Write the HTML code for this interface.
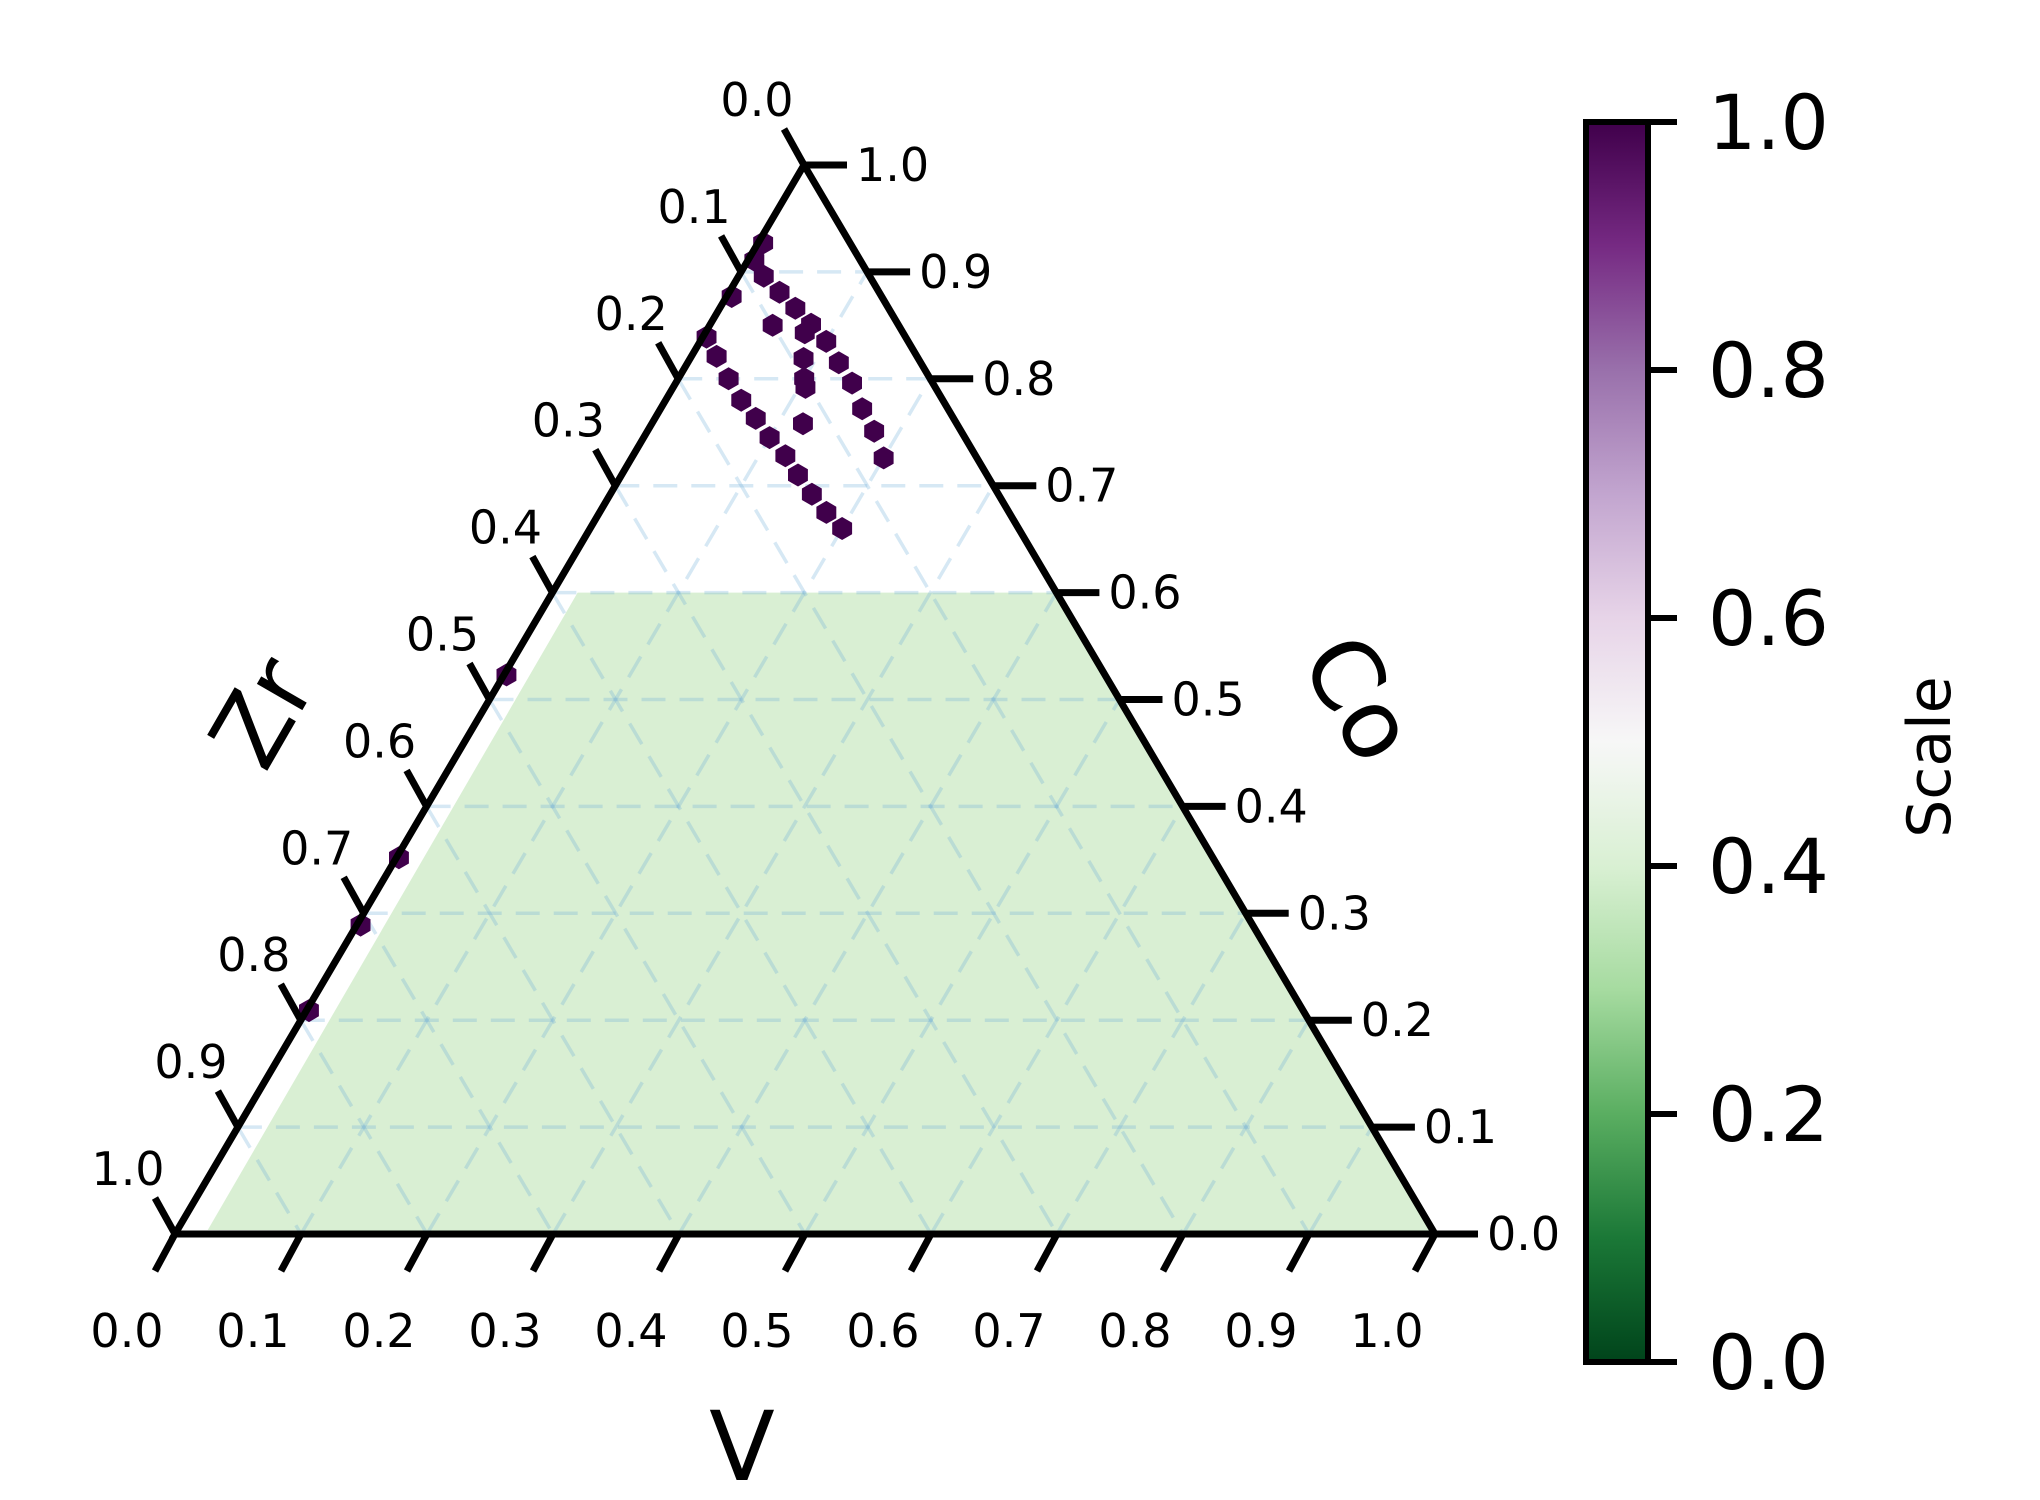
<!DOCTYPE html>
<html><head><meta charset="utf-8"><style>
html,body{margin:0;padding:0;background:#fff;}
svg{display:block;font-family:"DejaVu Sans","Liberation Sans",sans-serif;}
</style></head><body>
<svg id="chart" width="2040" height="1500" viewBox="0 0 2040 1500" xmlns="http://www.w3.org/2000/svg">
<defs>
<linearGradient id="prgn" x1="0" y1="1" x2="0" y2="0">
<stop offset="0" stop-color="#00441b"/><stop offset="0.1" stop-color="#1b7837"/><stop offset="0.2" stop-color="#5aae61"/><stop offset="0.3" stop-color="#a6dba0"/><stop offset="0.4" stop-color="#d9f0d3"/><stop offset="0.5" stop-color="#f7f7f7"/><stop offset="0.6" stop-color="#e7d4e8"/><stop offset="0.7" stop-color="#c2a5cf"/><stop offset="0.8" stop-color="#9970ab"/><stop offset="0.9" stop-color="#762a83"/><stop offset="1" stop-color="#40004b"/>
</linearGradient>
</defs>
<g id="fill"></g><g id="grid"></g><g id="pts"></g><g id="axes"></g>
<rect x="1586" y="122" width="62" height="1240" fill="url(#prgn)" stroke="#000" stroke-width="6"/>
<g id="cbticks"></g>
<text x="0" y="0" font-size="60" text-anchor="middle" transform="translate(1950,757) rotate(-90)">Scale</text>
<text x="742" y="1480" font-size="96" text-anchor="middle">V</text>
<text x="0" y="0" font-size="96" text-anchor="middle" transform="translate(262,712) rotate(-60) translate(0,34)">Zr</text>
<text x="0" y="0" font-size="96" text-anchor="middle" transform="translate(1360,698) rotate(60) translate(0,34)">Co</text>
</svg>
<script>
const lineA_v=[0.004,0.005,0.004,0.003,0.02,0.04,0.06,0.08,0.10,0.121,0.14,0.16,0.18,0.20];
const lineA_co=[0.927,0.911,0.877,0.839,0.821,0.80,0.78,0.763,0.745,0.728,0.71,0.692,0.675,0.66];
const lineB_v=[0.02,0.04,0.06,0.08,0.10,0.12,0.14,0.16,0.18,0.20];
const lineB_co=[0.896,0.881,0.866,0.851,0.835,0.815,0.796,0.772,0.751,0.726];
const lineC_v=[0.05,0.079,0.09,0.10,0.105,0.12];
const lineC_co=[0.85,0.843,0.819,0.80,0.792,0.758];
const edge_v=[0.002,0.002,0.003,0.002];
const edge_co=[0.523,0.352,0.289,0.209];
const ticks=[0,0.1,0.2,0.3,0.4,0.5,0.6,0.7,0.8,0.9,1.0];
const cbTicks=[0,0.2,0.4,0.6,0.8,1.0];
const fillCoMax=0.6, fillVMin=0.026, fillVTop=0.02;

const A={x:804,y:165},L={x:175,y:1234},R={x:1435,y:1234};
function P(v,co){const zr=1-v-co;return {x:L.x*zr+R.x*v+A.x*co,y:L.y*zr+R.y*v+A.y*co};}
const NS="http://www.w3.org/2000/svg";
function mk(tag,attrs,parent){const e=document.createElementNS(NS,tag);for(const k in attrs)e.setAttribute(k,attrs[k]);parent.appendChild(e);return e;}
const gF=document.getElementById('fill'),gG=document.getElementById('grid'),gP=document.getElementById('pts'),gA=document.getElementById('axes'),gC=document.getElementById('cbticks');

// green region
const f1=P(fillVMin,0),f2=P(1,0),f3=P(1-fillCoMax,fillCoMax),f4=P(fillVTop,fillCoMax);
const poly=mk('polygon',{points:`${f1.x},${f1.y-4} ${f2.x},${f2.y} ${f3.x},${f3.y} ${f4.x},${f4.y}`,fill:'#d9efd3'},gF);



// grid
for(let i=1;i<10;i++){const t=i/10;
 const segs=[[P(0,t),P(1-t,t)],[P(t,0),P(t,1-t)],[P(0,1-t),P(1-t,0)]];
 segs.forEach(s=>{const l=mk('line',{x1:s[0].x,y1:s[0].y,x2:s[1].x,y2:s[1].y,stroke:'#6baed6','stroke-opacity':0.28,'stroke-width':3.5,'stroke-dasharray':'24 14'},gG);
 
 });
}

// points
function hex(cx,cy,r){let s='';for(let k=0;k<6;k++){const a=Math.PI/180*(60*k-90);s+=(cx+r*Math.cos(a)).toFixed(1)+','+(cy+r*Math.sin(a)).toFixed(1)+' ';}return s;}
[[lineA_v,lineA_co],[lineB_v,lineB_co],[lineC_v,lineC_co],[edge_v,edge_co]].forEach(([vs,cs])=>{
 vs.forEach((v,i)=>{const p=P(v,cs[i]);const h=mk('polygon',{points:hex(p.x,p.y,11.5),fill:'#40004b'},gP);
 
 });
});

// axes
const tri=mk('polygon',{points:`${A.x},${A.y} ${L.x},${L.y} ${R.x},${R.y}`,fill:'none',stroke:'#000','stroke-width':7,'stroke-linejoin':'miter'},gA);


ticks.forEach(t=>{
 const lab=t.toFixed(1);
 let p=P(t,0);
 let l=mk('line',{x1:p.x,y1:p.y,x2:p.x-20,y2:p.y+37,stroke:'#000','stroke-width':7},gA);
 
 
 let tx=mk('text',{x:p.x-48,y:p.y+113,'font-size':46,'text-anchor':'middle'},gA);tx.textContent=lab;
 
 
 p=P(1-t,t);
 l=mk('line',{x1:p.x,y1:p.y,x2:p.x+43,y2:p.y,stroke:'#000','stroke-width':7},gA);
 
 
 tx=mk('text',{x:p.x+52,y:p.y+16,'font-size':46},gA);tx.textContent=lab;
 
 
 p=P(0,1-t);
 l=mk('line',{x1:p.x,y1:p.y,x2:p.x-20,y2:p.y-36,stroke:'#000','stroke-width':7},gA);
 
 
 tx=mk('text',{x:p.x-47,y:p.y-49,'font-size':46,'text-anchor':'middle'},gA);tx.textContent=lab;
 
 
});

cbTicks.forEach(t=>{const y=1362-t*1240;
 const l=mk('line',{x1:1648,y1:y,x2:1677,y2:y,stroke:'#000','stroke-width':6},gC);
 
 
 const tx=mk('text',{x:1708,y:y+27,'font-size':76},gC);tx.textContent=t.toFixed(1);
 
 
});
</script>
</body></html>
